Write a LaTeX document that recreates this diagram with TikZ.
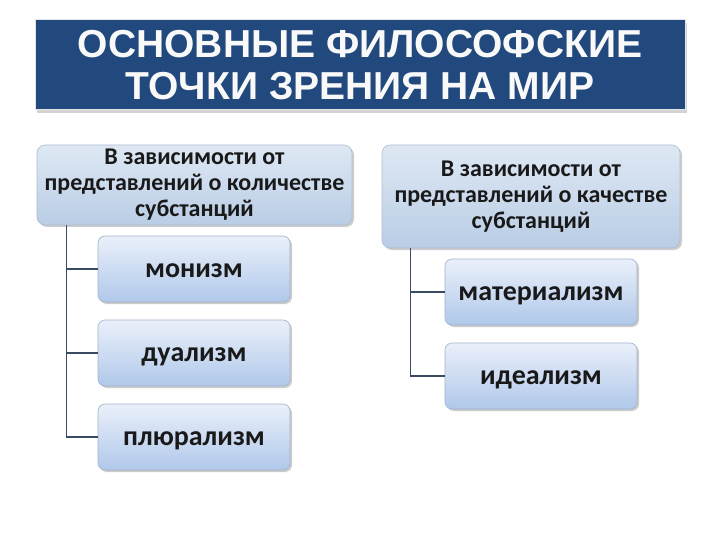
\documentclass[tikz,border=0pt]{standalone}
\usepackage{fontspec}
\setmainfont{Carlito}
\newfontfamily\titlefont{Liberation Sans}
\usetikzlibrary{shadows}

\definecolor{titleblue}{RGB}{33,73,125}
\definecolor{linkgray}{RGB}{58,74,99}
\definecolor{headtop}{RGB}{222,232,244}
\definecolor{headbot}{RGB}{185,205,229}
\definecolor{leaftop}{RGB}{234,240,250}
\definecolor{leafbot}{RGB}{176,200,234}

\tikzset{
  banner/.style={fill=titleblue, draw=white!80!gray, line width=1pt,
    minimum width=650pt, minimum height=90pt, align=center,
    text=white!95!gray, font=\titlefont\bfseries\fontsize{39}{42}\selectfont,
    drop shadow={shadow xshift=2pt, shadow yshift=-3pt, opacity=0.35}},
  headbox/.style={rounded corners=8pt, top color=headtop, bottom color=headbot,
    draw=headbot!80!gray, line width=0.6pt, align=center, text=black!90,
    font=\bfseries\fontsize{24}{26}\selectfont,
    drop shadow={shadow xshift=2pt, shadow yshift=-2pt, opacity=0.4}},
  leafbox/.style={rounded corners=7pt, top color=leaftop, bottom color=leafbot,
    draw=leafbot!70!gray, line width=0.6pt, minimum width=192pt,
    minimum height=66pt, text=black!90, font=\bfseries\fontsize{28}{32}\selectfont,
    text height=16pt, text depth=0pt,
    drop shadow={shadow xshift=2pt, shadow yshift=-2pt, opacity=0.4}},
  branch/.style={draw=linkgray, line width=1.5pt}
}

\begin{document}
\begin{tikzpicture}[x=1pt, y=-1pt]
\useasboundingbox (0,0) rectangle (720,540);
% title
\node [banner] (title) at (360,65) {ОСНОВНЫЕ ФИЛОСОФСКИЕ\\ТОЧКИ ЗРЕНИЯ НА МИР};
% left column: quantity
\node [headbox, minimum width=315pt, minimum height=80pt] (qty) at (194.5,185)
  {В зависимости от\\представлений о количестве\\субстанций};
\node [leafbox] (mon) at (194,269) {монизм};
\node [leafbox] (dual) at (194,353) {дуализм};
\node [leafbox] (plur) at (194,437) {плюрализм};
% right column: quality
\node [headbox, minimum width=298pt, minimum height=103pt] (qual) at (531,196.5)
  {В зависимости от\\представлений о качестве\\субстанций};
\node [leafbox] (mat) at (541,292) {материализм};
\node [leafbox] (ideal) at (541,376) {идеализм};
% connectors
\coordinate (trunkL) at ([xshift=30pt]qty.south west);
\coordinate (trunkR) at ([xshift=29pt]qual.south west);
\draw [branch] (trunkL) |- (mon.west);
\draw [branch] (trunkL) |- (dual.west);
\draw [branch] (trunkL) |- (plur.west);
\draw [branch] (trunkR) |- (mat.west);
\draw [branch] (trunkR) |- (ideal.west);
\end{tikzpicture}
\end{document}
